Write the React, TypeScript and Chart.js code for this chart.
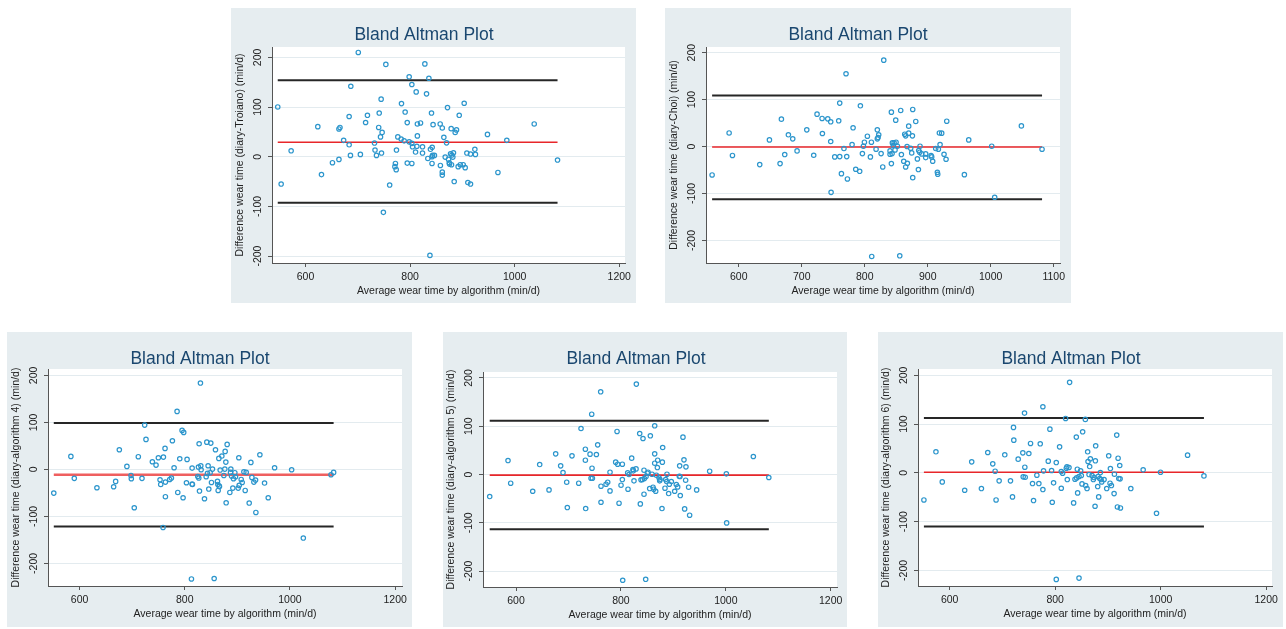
import React, { useEffect, useRef } from "react";
import { Chart, registerables } from "chart.js";

Chart.register(...registerables);

// ---------- DATA ----------
const troianoAvg = [
  547, 553.5, 572.6, 623.6, 630.6, 651.6, 664, 666, 664, 673,
  683.5, 683.5, 686, 686.7, 701, 705, 715, 718.5, 732, 733,
  735.8, 740, 741, 743.5, 744.7, 745.4, 746.6, 749, 753.7, 761,
  771, 772, 773.5, 774, 776.6, 783, 783.6, 788.7, 790.6, 794.6,
  794.6, 798.3, 798.3, 803.4, 803.4, 803.4, 804.7, 810.5, 811.7, 813,
  814, 814, 820, 823.8, 823.8, 828.3, 831.5, 834, 836, 838,
  839, 841, 842, 842, 842.3, 843, 844, 846.6, 857.6, 858,
  861.6, 861.6, 861.6, 864.6, 867.2, 869.8, 871.6, 873.6, 875, 875.4,
  877.4, 878.6, 879.3, 880, 881.8, 883, 884.4, 886.3, 888.8, 892,
  894, 896, 901.6, 903.5, 905.4, 908.6, 910.5, 915.6, 915.6, 923.9,
  925, 948, 968, 985, 1037.4, 1082,
];
const troianoDiff = [
  100.3, -55, 12, 60.6, -36, -12, 56, 59, -5.4, 33,
  81, 24, 2.7, 142, 210, 4.7, 69, 83.5, 27.6, 13.5,
  2.7, 59, 88, 40, 116, 7.4, 49, -112, 186, -57,
  -20, -13.5, -26, 13.5, 40, 35.7, 107, 32, 90, -12.8,
  68.7, 161, 30, 145.5, 27, -13.5, 20, 9.4, 130.6, 21,
  66, 42, 68, 20, 7.4, 187, 126.6, -3.4, 158, -198.7,
  15, 88, 0, -13.5, 19, 2.7, 64.6, 2.7, 66, -17.5,
  58, -31, -37, 39, -0.7, 28, 99, -5.4, -12, -14.8,
  6, 56.6, -16, 3.4, -0.7, 8, -50, 49, 54, -20,
  83.5, -16, -16, 107.7, -22, 7.4, -52, 5.4, -55, 15,
  4.7, 45, -31.6, 33, 66, -6.7,
];
const troianoLimits = [154, 29.4, -92.6];

const choiAvg = [
  557.7, 584.7, 590, 633.3, 648.7, 665.6, 667.7, 673, 678.8, 685.7,
  692.6, 708, 719, 724.3, 732.3, 732.8, 741.3, 746, 746, 746.6,
  752.4, 758.7, 760.3, 760.3, 763, 767, 770.3, 771.4, 772.5, 779.9,
  781.5, 785.7, 792, 793.1, 796.3, 797.9, 799.5, 804.2, 809, 810.6,
  811.1, 818, 820, 820, 821.2, 822.2, 826, 828.6, 830.2, 840.2,
  840.2, 842.3, 842.3, 843.4, 843.9, 845.5, 846.6, 848.1, 849.2, 849.7,
  851.9, 855.6, 857.1, 858.2, 861.9, 863.5, 865, 865, 867.2, 867.7,
  869.8, 869.8, 873, 874.6, 875.7, 876.2, 876.2, 881, 883.6, 885.2,
  885.7, 887.3, 887.8, 890.5, 896.8, 896.8, 905.3, 906.3, 907.9, 912.7,
  915.3, 915.9, 916.9, 918.5, 919.6, 922.2, 925.9, 929.1, 930.2, 958.2,
  965.1, 1001.6, 1006.3, 1048.7, 1081.5,
];
const choiDiff = [
  -60.5, 29, -19, -38.4, 14.2, -36.3, 58.4, -17, 25, 16.4,
  -9.3, 35.6, -18.5, 69, 59.8, 27.8, 59, 52.7, 10.7, -97.5,
  -22, 54.8, 92.5, -21.4, -57.7, -4.3, 155, -21.4, -69, 4.3,
  39.9, -48.4, -52.7, 86.8, -15, 0.7, 9.3, 22, -22, 9.3,
  -234, -5.7, 35.6, 16.4, 19.2, 25, -15, -43.4, 184, -9.3,
  -16.4, 73.3, -36.3, -15, 7.8, 2.1, 7.8, -7.1, 56.2, 9.3,
  0.7, -232.7, 76.9, -17, -31.3, 26.3, 22.8, -43.4, 0, -35.6,
  43.4, 28.5, -3.6, -13.5, 22.8, 79, -66.2, 53.4, -26.3, -49,
  -8.5, -12, 0.7, -15.7, -15.7, -23.5, -19.2, -22, -31.3, -4.3,
  -54.8, -59, -5.7, 29, 4.3, 28.5, -16.4, -27, 54, -59.8,
  14.2, 0.7, -108, 44, -5.7,
];
const choiLimits = [108.5, -1, -112];

const alg4Avg = [
  551, 583.5, 590, 633, 664.8, 668.6, 675.6, 690, 697.8, 698.4,
  704, 711.7, 718.7, 723.8, 726.3, 738.4, 745.4, 749.8, 753, 754.3,
  758.7, 759.4, 762.5, 763.2, 763.2, 771.4, 774.6, 776.5, 779.7, 785.4,
  786.7, 790.5, 794.9, 796.8, 798, 803.2, 804.4, 812.7, 814, 814,
  814.6, 824.8, 826, 826.7, 827.3, 828, 829.8, 830.5, 831.1, 837.5,
  840.7, 841.9, 843.2, 844.4, 845.7, 848.2, 849.5, 850.8, 852.7, 855.9,
  858.4, 862.2, 862.9, 863.5, 864.8, 865.4, 866, 867.3, 870.5, 874.3,
  876.2, 876.8, 878.1, 878.7, 880.6, 885.7, 887, 887.6, 888.9, 891.4,
  892.7, 895.2, 896.5, 901.6, 902.8, 903.5, 907.3, 909.2, 912.4, 914.9,
  916.8, 922.5, 925.7, 927.6, 931.4, 934.6, 935.2, 942.8, 951.7, 958.7,
  970.8, 1003.2, 1025.4, 1078, 1083,
];
const alg4Diff = [
  -50.4, 27.7, -19, -39, -36.9, -25.5, 41.8, 6.4, -12.8, -19.9,
  -81.6, 27, -19, 94.3, 63.8, 16.3, 9.2, 24.8, -22, -32,
  -123.4, 26.2, 44.7, -27, -58, -21.3, -18.4, 61, 3.5, 123.4,
  -49, 22.7, 83, -60.3, 78.7, -28.4, 21.3, -233, 2.8, -31.2,
  -32, -15, 5, -18.4, 54.6, -46, 183.7, 7.8, -0.7, -62.4,
  -15.6, 58, -8.5, 7.8, -41.8, -7, 56, -27.7, 0.7, -232,
  41.8, -25.5, -32, -44.7, 23.4, -35.5, -36.2, -1.4, 28.4, -12.8,
  0.7, 38.3, 15.6, -71, 53.2, -49, -6.4, 0.7, -14.2, -39.7,
  -19.9, -7, -15.6, -39.7, 24.8, -34, -21.3, -27.7, -5, -44.7,
  -6.4, -71.6, 14.9, -17, -27, -22.7, -91.5, 31.2, -29, -60.3,
  3.5, -0.7, -146, -11.3, -6.4,
];
const alg4Limits = [98.5, -11.4, -121.3];

const alg5Avg = [
  549.8, 584.7, 589.8, 631.8, 645.1, 662.9, 675.6, 685.1, 689.6, 696.6,
  697.8, 706.7, 719.5, 723.9, 732.2, 732.2, 732.8, 741.1, 743, 744.3,
  744.9, 745.6, 753.2, 755.7, 761.4, 762, 762, 771.6, 774.8, 779.2,
  779.2, 790, 792.6, 793.8, 796.4, 800.2, 802.7, 802.7, 803.4, 812.9,
  813.5, 815.4, 820.5, 823, 823.6, 824.9, 828.8, 829.4, 835.8, 837,
  838.3, 840.9, 842.1, 844, 844, 844.7, 847.2, 847.9, 850.4, 851.7,
  854.8, 856.1, 859.3, 861.2, 862.5, 864.4, 864.4, 864.4, 866.3, 867.6,
  869.5, 870.1, 872.6, 873.9, 874.5, 878.3, 879, 879.6, 884, 885.3,
  887.2, 887.8, 891, 892.3, 896.1, 902.5, 905.6, 908.2, 911.3, 912,
  912.6, 913.2, 918.3, 920.2, 921.5, 923.4, 924, 929.1, 931, 944.4,
  969.2, 1001, 1001.6, 1052.5, 1082,
];
const alg5Diff = [
  -45.6, 29, -18, -34.6, 20.7, -31.8, 42.8, 18, 4.1, -15.9,
  -68.4, 38.7, -18, 95.4, 52.5, 29.7, -70.5, 42.2, -7.6, 125,
  13.1, -7.6, 41.5, 61.5, 171.4, -24.2, -57.4, -20, -15.9, 4.8,
  -33.9, 25.6, 89.2, 21.4, -59.4, -22.1, -10.4, 21.4, -219, 3.5,
  -30.4, 0, 33.9, 10.4, 7.6, -13.1, 11.7, 187.3, 85, -60.8,
  -11, -10.4, 74.6, 9, -40.8, -8.3, -217, -4.1, 2.8, 4.8,
  -29, 80.2, 0.7, -26.3, -30.4, 42.8, 23.5, 100.9, -34.6, -1.4,
  14.5, 29.7, -6.9, -13.1, -10.4, -70.5, 25.6, 56, -28.3, -10.4,
  -14.5, 0.7, -39.4, -20, -14.5, -34.6, -20.7, -25.6, -3.5, 18,
  -4.1, -43.5, 77.4, 30.4, -71.2, -11.7, 15.9, -26.3, -84.3, -31.8,
  6.9, 1.4, -100.2, 37.3, -6.2,
];
const alg5Limits = [111.3, -1.4, -113.4];

const alg6Avg = [
  551.2, 574, 586, 628.5, 641.8, 660.2, 672.2, 681.7, 686.2, 688,
  693.8, 704.5, 715.3, 719.1, 721, 721.6, 729.9, 738.7, 739.4, 741.9,
  742.5, 743.2, 750.1, 753.3, 757.1, 759, 765.3, 769.1, 771.7, 776.7,
  776.7, 778, 786.9, 790, 793.2, 794.5, 797, 802.1, 802.1, 808.4,
  811.6, 811.6, 814.1, 819.8, 821.1, 822.3, 823, 826.2, 827.4, 835,
  837.6, 840.1, 840.7, 842, 842.6, 845.2, 845.2, 848.3, 849.6, 850.9,
  852.1, 857.2, 857.8, 860.4, 861.6, 862.3, 864.2, 865.4, 866.7, 869.9,
  872.4, 873.7, 875.6, 876.2, 876.8, 880.6, 881.3, 882.5, 884.4, 885.7,
  887, 888.2, 892.7, 897.7, 901.5, 904, 904.7, 906.6, 911.7, 912.3,
  916.7, 918, 919.3, 920.6, 922.4, 923.1, 923.7, 943.4, 966.8, 992.1,
  999.7, 1051, 1082,
];
const alg6Diff = [
  -55.5, 43.2, -18.5, -35.6, 22.6, -32.2, 41.8, 18.5, 3.4, -55.5,
  -16.4, 37, -16.4, -49.3, 93.2, 67.1, 28.1, 41.1, -8.2, 122.6,
  11.6, -8.9, 39.7, 60.3, -21.9, -56.8, -4.8, -21.9, 59.6, 135.6,
  -34.2, 4.1, 24, 89.7, 4.8, -60.3, -20.5, -218.5, 21.2, 53.4,
  -31.5, 2.7, -0.7, 111.6, 9.6, 12.3, -13.7, 11, 185.6, -61.6,
  -13, 73.3, -10.3, 7.5, -41.1, -215.8, -7.5, 4.1, -5.5, -22.6,
  84.2, 109.6, -26, -32.2, 43.2, 23.3, -3.4, 13, 28.8, -5.5,
  -13.7, -9.6, -68.5, 24.7, 55.5, -28.1, -7.5, -49.3, -11.6, 0.7,
  -13.7, -18.5, -13.7, -32.2, 35, -21.2, 8.9, -26, -42.5, -2.7,
  77.4, -69.9, 30.1, -11.6, 15.1, -12.3, -71.9, -32.2, 6.2, -82.9,
  1.4, 36.3, -6.2,
];
const alg6Limits = [112.4, 1.4, -110.2];

const titleText = "Bland Altman Plot";
const xTitleText = "Average wear time by algorithm (min/d)";
const yTitles = [
  "Difference wear time (diary-Troiano) (min/d)",
  "Difference wear time (diary-Choi) (min/d)",
  "Difference wear time (diary-algorithm 4) (min/d)",
  "Difference wear time (diary-algorithm 5) (min/d)",
  "Difference wear time (diary-algorithm 6) (min/d)",
];
const xTicksWide = [600, 800, 1000, 1200];
const xTicksChoi = [600, 700, 800, 900, 1000, 1100];
const yTicks = [-200, -100, 0, 100, 200];

// ---------- STYLE / LAYOUT ----------
const BG = "#e6edf0";
const FONT = '"Liberation Sans", Arial, Helvetica, sans-serif';

type PanelCfg = {
  left: number; top: number; w: number; h: number;
  yW: number; padR: number; padT: number; xH: number;
  xMin: number; xMax: number; yMin: number; yMax: number;
  xTicks: number[]; avg: number[]; diff: number[]; limits: number[];
  yTitle: string; redWidth: number; redColor: string;
};

const panels: PanelCfg[] = [
  { left: 231, top: 8, w: 405, h: 295, yW: 41, padR: 11, padT: 39, xH: 40,
    xMin: 536, xMax: 1211, yMin: -214, yMax: 221, xTicks: xTicksWide,
    avg: troianoAvg, diff: troianoDiff, limits: troianoLimits, yTitle: yTitles[0],
    redWidth: 1.5, redColor: "#e8262a" },
  { left: 665, top: 8, w: 406, h: 295, yW: 41, padR: 11, padT: 39, xH: 40,
    xMin: 548, xMax: 1110, yMin: -248, yMax: 212, xTicks: xTicksChoi,
    avg: choiAvg, diff: choiDiff, limits: choiLimits, yTitle: yTitles[1],
    redWidth: 1.5, redColor: "#e8262a" },
  { left: 7, top: 332, w: 405, h: 295, yW: 41, padR: 10, padT: 37, xH: 41,
    xMin: 540, xMax: 1213, yMin: -248, yMax: 213.6, xTicks: xTicksWide,
    avg: alg4Avg, diff: alg4Diff, limits: alg4Limits, yTitle: yTitles[2],
    redWidth: 2.5, redColor: "#ef5f5f" },
  { left: 443, top: 332, w: 404, h: 295, yW: 40, padR: 10, padT: 40, xH: 40,
    xMin: 537, xMax: 1212, yMin: -233, yMax: 212.4, xTicks: xTicksWide,
    avg: alg5Avg, diff: alg5Diff, limits: alg5Limits, yTitle: yTitles[3],
    redWidth: 1.8, redColor: "#e8262a" },
  { left: 878, top: 332, w: 405, h: 295, yW: 40, padR: 11, padT: 37, xH: 41,
    xMin: 540, xMax: 1211, yMin: -232, yMax: 213, xTicks: xTicksWide,
    avg: alg6Avg, diff: alg6Diff, limits: alg6Limits, yTitle: yTitles[4],
    redWidth: 1.5, redColor: "#e8262a" },
];

function makePlugin(cfg: PanelCfg) {
  return {
    id: "stataLook",
    beforeDraw(chart: any) {
      const { ctx, chartArea: a, width, height } = chart;
      ctx.save();
      ctx.fillStyle = BG;
      ctx.fillRect(0, 0, width, height);
      ctx.fillStyle = "#ffffff";
      ctx.fillRect(a.left, a.top, a.right - a.left, a.bottom - a.top);
      ctx.restore();
    },
    afterDraw(chart: any) {
      const { ctx, chartArea: a } = chart;
      const xs = chart.scales.x;
      const ys = chart.scales.y;
      ctx.save();
      ctx.fillStyle = "#1a476f";
      ctx.font = `17.5px ${FONT}`;
      ctx.textAlign = "center";
      ctx.textBaseline = "alphabetic";
      ctx.fillText(titleText, 193, 31.5);

      ctx.fillStyle = "#222222";
      ctx.font = `10.5px ${FONT}`;
      for (const v of cfg.xTicks) {
        ctx.fillText(String(v), xs.getPixelForValue(v), a.bottom + 17);
      }
      ctx.fillText(xTitleText, (a.left + a.right) / 2, a.bottom + 30.5);

      for (const v of yTicks) {
        ctx.save();
        ctx.translate(a.left - 14, ys.getPixelForValue(v));
        ctx.rotate(-Math.PI / 2);
        ctx.textBaseline = "middle";
        ctx.fillText(String(v), 0, 0);
        ctx.restore();
      }
      ctx.save();
      ctx.translate(a.left - 32, (a.top + a.bottom) / 2);
      ctx.rotate(-Math.PI / 2);
      ctx.textBaseline = "middle";
      ctx.fillText(cfg.yTitle, 0, 0);
      ctx.restore();
      ctx.restore();
    },
  };
}

function Panel({ cfg }: { cfg: PanelCfg }) {
  const ref = useRef<HTMLCanvasElement | null>(null);
  useEffect(() => {
    if (!ref.current) return;
    const xLo = Math.min(...cfg.avg);
    const xHi = Math.max(...cfg.avg);
    const limitLine = (v: number, color: string, width: number) => ({
      data: [{ x: xLo, y: v }, { x: xHi, y: v }],
      showLine: true,
      borderColor: color,
      borderWidth: width,
      pointRadius: 0,
      pointHoverRadius: 0,
    });
    const chart = new Chart(ref.current, {
      type: "scatter",
      data: {
        datasets: [
          {
            data: cfg.avg.map((x, i) => ({ x, y: cfg.diff[i] })),
            pointStyle: "circle",
            pointRadius: 2.2,
            pointBorderWidth: 1.2,
            borderColor: "#2b95cc",
            backgroundColor: "rgba(255,255,255,0)",
            pointBackgroundColor: "rgba(255,255,255,0)",
            pointBorderColor: "#2b95cc",
          } as any,
          limitLine(cfg.limits[0], "#262626", 2),
          limitLine(cfg.limits[1], cfg.redColor, cfg.redWidth),
          limitLine(cfg.limits[2], "#262626", 2),
        ],
      },
      options: {
        responsive: false,
        animation: false,
        devicePixelRatio: 1,
        events: [],
        layout: {
          autoPadding: false,
          padding: { left: 0, right: cfg.padR, top: cfg.padT, bottom: 0 },
        },
        plugins: {
          legend: { display: false },
          tooltip: { enabled: false },
          title: { display: false },
        },
        scales: {
          x: {
            type: "linear",
            min: cfg.xMin,
            max: cfg.xMax,
            afterBuildTicks: (axis: any) => {
              axis.ticks = cfg.xTicks.map((v) => ({ value: v }));
            },
            afterFit: (scale: any) => {
              scale.height = cfg.xH;
            },
            ticks: { display: false },
            grid: {
              drawOnChartArea: false,
              drawTicks: true,
              tickLength: 4,
              tickColor: "#555555",
              tickWidth: 1,
            },
            border: { display: true, color: "#555555", width: 1 },
          },
          y: {
            type: "linear",
            min: cfg.yMin,
            max: cfg.yMax,
            afterBuildTicks: (axis: any) => {
              axis.ticks = yTicks.map((v) => ({ value: v }));
            },
            afterFit: (scale: any) => {
              scale.width = cfg.yW;
            },
            ticks: { display: false },
            grid: {
              drawOnChartArea: true,
              color: "#e3ebef",
              lineWidth: 1,
              drawTicks: true,
              tickLength: 4,
              tickColor: "#555555",
              tickWidth: 1,
            },
            border: { display: true, color: "#555555", width: 1 },
          },
        },
      } as any,
      plugins: [makePlugin(cfg)],
    });
    return () => chart.destroy();
  }, [cfg]);
  return (
    <canvas
      ref={ref}
      width={cfg.w}
      height={cfg.h}
      style={{ position: "absolute", left: cfg.left, top: cfg.top, width: cfg.w, height: cfg.h }}
    />
  );
}

export default function App() {
  return (
    <div
      style={{
        position: "absolute",
        left: 0,
        top: 0,
        width: 1286,
        height: 629,
        background: "#ffffff",
        overflow: "hidden",
      }}
    >
      {panels.map((p, i) => (
        <Panel key={i} cfg={p} />
      ))}
    </div>
  );
}
